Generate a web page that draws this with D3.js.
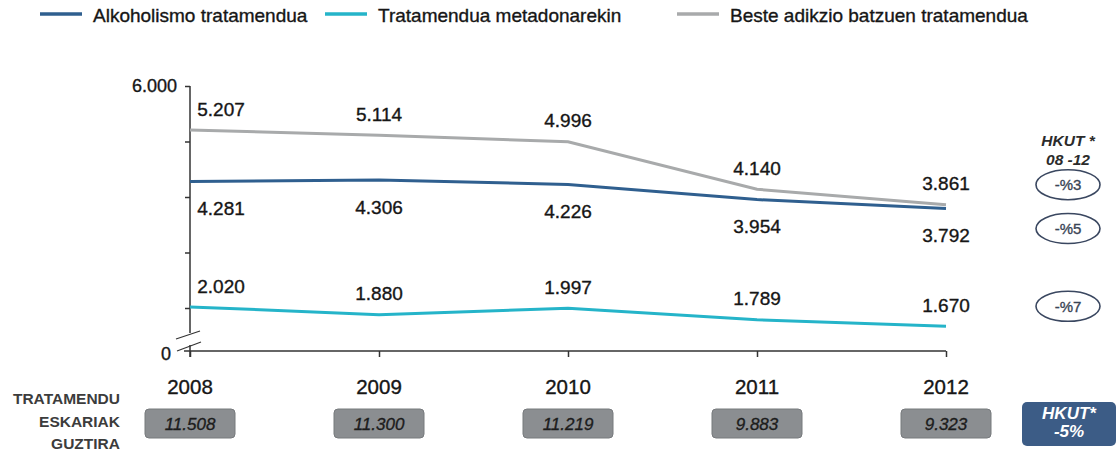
<!DOCTYPE html>
<html>
<head>
<meta charset="utf-8">
<script src="https://cdn.jsdelivr.net/npm/d3@7"></script>
<style>
  body { margin: 0; background: #fff; }
  svg { display: block; font-family: "Liberation Sans", Arial, sans-serif; }
  .heavy { stroke: currentColor; stroke-width: 0.35px; }
</style>
</head>
<body>
<svg id="chart"></svg>
<script>
const width = 1120;
const height = 454;

// datuak
const years = ["2008", "2009", "2010", "2011", "2012"];
const alkoholismo = [4281, 4306, 4226, 3954, 3792];
const metadona = [2020, 1880, 1997, 1789, 1670];
const beste = [5207, 5114, 4996, 4140, 3861];
const totals = [11508, 11300, 11219, 9883, 9323];
const yTicks = [2000, 3000, 4000, 5000, 6000];
const hkutLabels = ["-%3", "-%5", "-%7"];
const totalHkut = ["HKUT*", "-5%"];
const rowLabels = ["TRATAMENDU", "ESKARIAK", "GUZTIRA"];

const series = [
    {name: "Alkoholismo tratamendua", values: alkoholismo, color: "#2f5f8f", labelDy: 27, hkut: hkutLabels[1], hkutDy: 20},
    {name: "Tratamendua metadonarekin", values: metadona, color: "#25b4c9", labelDy: -21, hkut: hkutLabels[2], hkutDy: -20},
    {name: "Beste adikzio batzuen tratamendua", values: beste, color: "#a8aaab", labelDy: -21, hkut: hkutLabels[0], hkutDy: -20}
];

const locale = d3.formatLocale({decimal: ",", thousands: ".", grouping: [3], currency: ["", "€"]});
const fmt = locale.format(",d");

const svg = d3.select("#chart")
    .attr("width", width)
    .attr("height", height);

const x = d3.scalePoint()
    .domain(years)
    .range([190, 946]);

const y = d3.scaleLinear()
    .domain([2000, 6000])
    .range([308, 86]);

const axisY = 351;
const ink = "#161616";

// legenda
const legendX = [40, 325, 677];
const legend = svg.append("g");
series.forEach((s, i) => {
    legend.append("line")
        .attr("x1", legendX[i]).attr("x2", legendX[i] + 42)
        .attr("y1", 14).attr("y2", 14)
        .attr("stroke", s.color)
        .attr("stroke-width", 3.5);
    legend.append("text")
        .attr("class", "heavy")
        .attr("x", legendX[i] + 53)
        .attr("y", 15)
        .attr("dy", "0.35em")
        .attr("font-size", 19)
        .attr("fill", ink).style("color", ink)
        .text(s.name);
});

// Y ardatza
const yAxis = d3.axisLeft(y)
    .tickValues(yTicks)
    .tickSize(5)
    .tickFormat(d => d === 6000 ? fmt(d) : "");
const gy = svg.append("g")
    .attr("transform", "translate(190,0)")
    .call(yAxis);
gy.select(".domain").remove();
gy.selectAll(".tick line").attr("stroke", "#333").attr("stroke-width", 1.5);
gy.selectAll(".tick text")
    .attr("class", "heavy")
    .attr("x", -13)
    .attr("font-size", 18)
    .attr("fill", ink).style("color", ink);
svg.append("line")
    .attr("x1", 190).attr("x2", 190)
    .attr("y1", y(6000)).attr("y2", 333)
    .attr("stroke", "#333").attr("stroke-width", 1.5);

// etena
svg.append("line")
    .attr("x1", 176).attr("y1", 339).attr("x2", 200).attr("y2", 331)
    .attr("stroke", "#333").attr("stroke-width", 1.2);
svg.append("line")
    .attr("x1", 177).attr("y1", 351).attr("x2", 201).attr("y2", 342)
    .attr("stroke", "#333").attr("stroke-width", 1.2);
svg.append("text")
    .attr("class", "heavy")
    .attr("x", 171).attr("y", 354)
    .attr("dy", "0.35em")
    .attr("text-anchor", "end")
    .attr("font-size", 18)
    .attr("fill", ink).style("color", ink)
    .text("0");

// X ardatza
const xAxis = d3.axisBottom(x).tickSize(6).tickFormat("");
const gx = svg.append("g")
    .attr("transform", `translate(0,${axisY})`)
    .call(xAxis);
gx.select(".domain").remove();
gx.selectAll(".tick line").attr("stroke", "#333").attr("stroke-width", 1.5);
svg.append("line")
    .attr("x1", 184).attr("x2", x("2012"))
    .attr("y1", axisY).attr("y2", axisY)
    .attr("stroke", "#333").attr("stroke-width", 1.5);
svg.append("line")
    .attr("x1", 190).attr("x2", 190)
    .attr("y1", 345).attr("y2", axisY + 6)
    .attr("stroke", "#333").attr("stroke-width", 1.5);

// lerroak
const line = d3.line()
    .x((d, i) => x(years[i]))
    .y(d => y(d));

series.forEach(s => {
    svg.append("path")
        .datum(s.values)
        .attr("fill", "none")
        .attr("stroke", s.color)
        .attr("stroke-width", 3)
        .attr("d", line);

    svg.append("g")
        .selectAll("text")
        .data(s.values)
        .join("text")
        .attr("class", "heavy")
        .attr("x", (d, i) => i === 0 ? x(years[i]) + 31 : x(years[i]))
        .attr("y", d => y(d) + s.labelDy)
        .attr("dy", "0.35em")
        .attr("text-anchor", "middle")
        .attr("font-size", 19)
        .attr("fill", ink).style("color", ink)
        .text(d => fmt(d));
});

// HKUT 08-12
const hx = 1068;
svg.append("text")
    .attr("x", hx).attr("y", 141).attr("dy", "0.35em")
    .attr("text-anchor", "middle")
    .attr("font-size", 15.5).attr("font-weight", "bold").attr("font-style", "italic")
    .attr("fill", "#2b2b2b")
    .text("HKUT *");
svg.append("text")
    .attr("x", hx).attr("y", 160).attr("dy", "0.35em")
    .attr("text-anchor", "middle")
    .attr("font-size", 15.5).attr("font-weight", "bold").attr("font-style", "italic")
    .attr("fill", "#2b2b2b")
    .text("08 -12");

series.forEach(s => {
    const cy = y(s.values[s.values.length - 1]) + s.hkutDy;
    svg.append("ellipse")
        .attr("cx", hx).attr("cy", cy)
        .attr("rx", 32).attr("ry", 15)
        .attr("fill", "#fff")
        .attr("stroke", "#3a4760")
        .attr("stroke-width", 1.6);
    svg.append("text")
        .attr("class", "heavy")
        .attr("x", hx).attr("y", cy).attr("dy", "0.35em")
        .attr("text-anchor", "middle")
        .attr("font-size", 15)
        .attr("fill", "#3a4556").style("color", "#3a4556")
        .text(s.hkut);
});

// behealdeko taula
svg.append("g")
    .selectAll("text")
    .data(rowLabels)
    .join("text")
    .attr("x", 120)
    .attr("y", (d, i) => 399 + i * 22.5)
    .attr("dy", "0.35em")
    .attr("text-anchor", "end")
    .attr("font-size", 15.5)
    .attr("font-weight", "bold")
    .attr("fill", "#3c3c3c")
    .text(d => d);

svg.append("g")
    .selectAll("text")
    .data(years)
    .join("text")
    .attr("class", "heavy")
    .attr("x", d => x(d))
    .attr("y", 387)
    .attr("dy", "0.35em")
    .attr("text-anchor", "middle")
    .attr("font-size", 20.5)
    .attr("fill", ink).style("color", ink)
    .text(d => d);

const boxes = svg.append("g")
    .selectAll("g")
    .data(totals)
    .join("g")
    .attr("transform", (d, i) => `translate(${x(years[i])},0)`);
boxes.append("rect")
    .attr("x", -45).attr("y", 409)
    .attr("width", 90).attr("height", 29)
    .attr("rx", 4)
    .attr("fill", "#8b8e91")
    .attr("stroke", "#777a7d");
boxes.append("text")
    .attr("class", "heavy")
    .attr("x", 0).attr("y", 424).attr("dy", "0.35em")
    .attr("text-anchor", "middle")
    .attr("font-size", 17)
    .attr("font-style", "italic")
    .attr("fill", "#1c1c1c").style("color", "#1c1c1c")
    .text(d => fmt(d));

svg.append("rect")
    .attr("x", 1022).attr("y", 402)
    .attr("width", 94).attr("height", 44)
    .attr("rx", 5)
    .attr("fill", "#3c5c86");
svg.append("g")
    .selectAll("text")
    .data(totalHkut)
    .join("text")
    .attr("x", 1069)
    .attr("y", (d, i) => 413 + i * 18)
    .attr("dy", "0.35em")
    .attr("text-anchor", "middle")
    .attr("font-size", 17)
    .attr("font-weight", "bold")
    .attr("font-style", "italic")
    .attr("fill", "#fff")
    .text(d => d);
</script>
</body>
</html>
